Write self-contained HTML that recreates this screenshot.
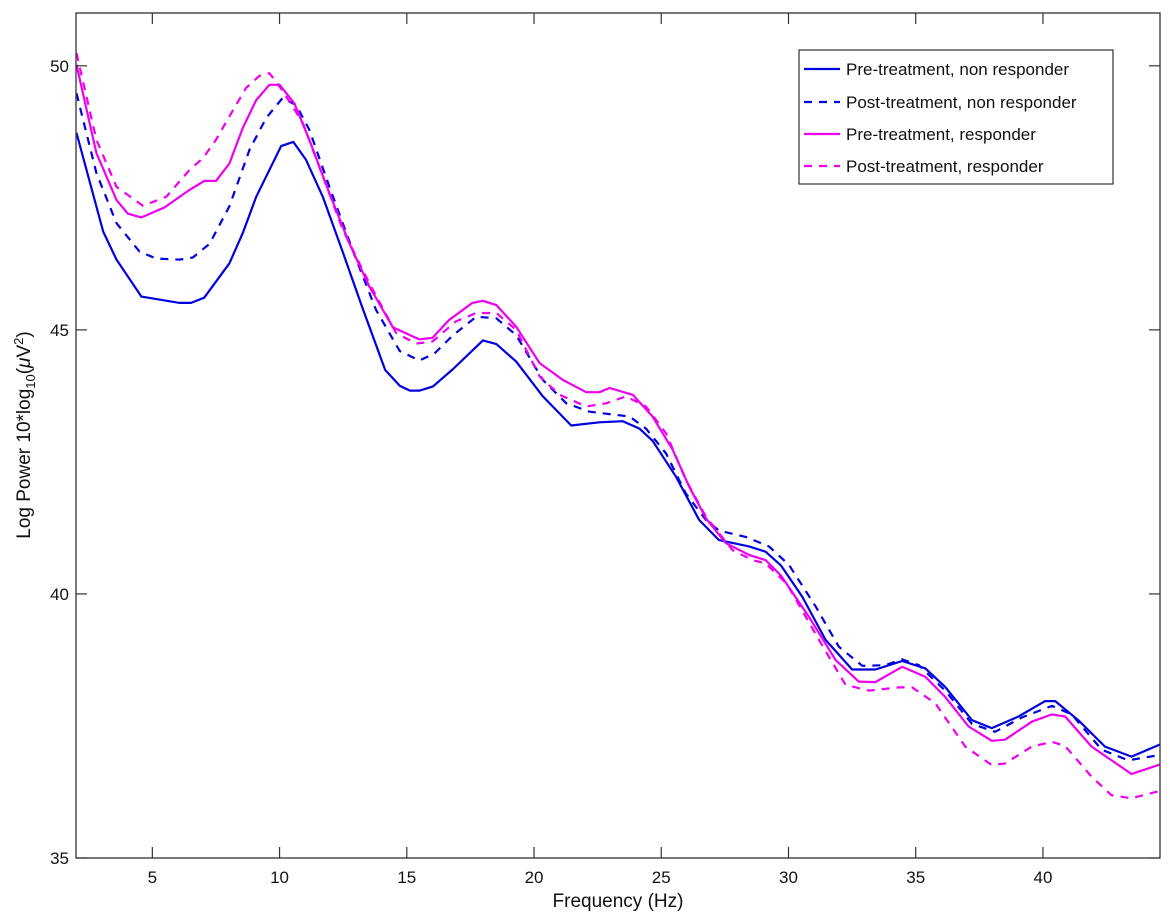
<!DOCTYPE html>
<html><head><meta charset="utf-8"><style>
html,body{margin:0;padding:0;background:#fff;}
svg{display:block;font-family:"Liberation Sans",Arial,sans-serif;}
</style></head><body>
<svg id="chart" width="1170" height="917" viewBox="0 0 1170 917">
<rect x="0" y="0" width="1170" height="917" fill="#fff"/>
<g id="series"></g>
<rect x="76" y="13" width="1084" height="845" fill="none" stroke="#333" stroke-width="1.3"/>
<g id="axes"></g>
<text x="618" y="907" font-size="19" text-anchor="middle" fill="#111">Frequency (Hz)</text>
<text transform="translate(30,435) rotate(-90)" font-size="19" text-anchor="middle" fill="#111">Log Power 10*log<tspan font-size="13" dy="5">10</tspan><tspan dy="-5">(</tspan><tspan font-style="italic">μ</tspan>V<tspan font-size="13" dy="-7">2</tspan><tspan dy="7">)</tspan></text>
<g>
<rect x="799" y="50" width="314" height="134" fill="#fff" stroke="#333" stroke-width="1.2"/>
<g><line x1="804" y1="69" x2="840" y2="69" stroke="#0000e0" stroke-width="2.2"/><text x="846" y="75" font-size="17" fill="#111">Pre-treatment, non responder</text></g>
<g><line x1="804" y1="102" x2="840" y2="102" stroke="#0000e0" stroke-width="2.2" stroke-dasharray="8,7"/><text x="846" y="108" font-size="17" fill="#111">Post-treatment, non responder</text></g>
<g><line x1="804" y1="134" x2="840" y2="134" stroke="#ee00ee" stroke-width="2.2"/><text x="846" y="140" font-size="17" fill="#111">Pre-treatment, responder</text></g>
<g><line x1="804" y1="166" x2="840" y2="166" stroke="#ee00ee" stroke-width="2.2" stroke-dasharray="8,7"/><text x="846" y="172" font-size="17" fill="#111">Post-treatment, responder</text></g>
</g>
</svg>
<script>
const xTicks=[5,10,15,20,25,30,35,40];
const yTicks=[35,40,45,50];
const preNRFreq=[2.02,3.07,3.59,4.57,6.07,6.52,7.04,8.03,8.55,9.08,10.06,10.54,11.04,11.7,12.5,13.24,14.15,14.73,15.12,15.51,16.03,16.82,17.99,18.52,19.3,20.35,21.46,22.57,23.49,24.14,24.66,25.58,26.49,27.27,28.45,29.1,29.7,30.54,31.46,32.5,33.42,34.47,35.38,36.16,37.21,37.99,39.04,40.09,40.48,41.39,42.44,43.48,44.6];
const preNRVal=[48.73,46.86,46.33,45.63,45.51,45.51,45.61,46.26,46.83,47.52,48.48,48.56,48.22,47.52,46.45,45.44,44.24,43.94,43.85,43.85,43.93,44.26,44.8,44.73,44.4,43.74,43.19,43.25,43.27,43.13,42.9,42.22,41.4,41.02,40.9,40.8,40.54,39.95,39.13,38.57,38.57,38.73,38.59,38.24,37.61,37.46,37.68,37.97,37.97,37.61,37.11,36.92,37.15];
const postNRFreq=[2.02,2.8,3.59,4.5,5.16,6.07,6.59,7.25,8.03,8.82,9.47,10.12,10.65,11.17,11.96,12.87,13.79,14.72,15.5,16.08,16.82,17.73,18.52,19.3,20.35,21.27,22.18,23.22,23.75,24.4,25.19,25.97,26.76,27.27,28.32,29.23,30.02,31.07,31.98,32.9,33.81,34.47,35.12,36.16,37.21,38.12,39.17,40.35,41.13,42.31,43.35,44.6];
const postNRVal=[49.48,47.97,47.02,46.48,46.35,46.33,46.37,46.63,47.34,48.41,49.01,49.39,49.26,48.79,47.71,46.51,45.38,44.6,44.42,44.55,44.9,45.25,45.22,44.9,44.05,43.61,43.45,43.39,43.36,43.13,42.66,41.9,41.4,41.2,41.08,40.9,40.55,39.76,39.0,38.64,38.65,38.76,38.65,38.17,37.54,37.39,37.66,37.88,37.72,37.05,36.85,36.95];
const preRFreq=[2.02,2.8,3.59,4.04,4.57,5.48,6.46,7.04,7.5,8.03,8.55,9.08,9.6,10.0,10.58,11.17,11.96,12.74,13.53,14.45,15.49,16.01,16.67,17.58,17.99,18.52,19.3,20.22,21.14,22.05,22.57,22.97,23.88,24.66,25.45,26.1,26.76,27.54,28.45,29.1,29.7,30.8,31.85,32.76,33.42,34.47,35.38,36.16,37.08,37.99,38.51,39.56,40.35,40.87,41.91,43.48,44.6];
const preRVal=[50.02,48.35,47.46,47.2,47.13,47.32,47.65,47.82,47.82,48.15,48.82,49.35,49.64,49.64,49.29,48.6,47.59,46.64,45.82,45.05,44.82,44.85,45.19,45.51,45.55,45.47,45.06,44.37,44.05,43.82,43.82,43.9,43.77,43.36,42.73,42.03,41.43,40.96,40.74,40.64,40.35,39.57,38.75,38.34,38.33,38.62,38.43,38.05,37.49,37.22,37.24,37.58,37.72,37.68,37.11,36.59,36.77];
const postRFreq=[2.02,2.8,3.59,4.63,5.55,6.46,6.99,7.5,8.03,8.68,9.21,9.6,10.0,10.38,10.91,11.7,12.48,13.53,14.58,15.36,16.01,16.93,17.73,18.52,19.3,20.22,21.01,22.05,22.83,23.62,24.4,25.19,25.97,26.76,27.8,28.58,29.1,29.95,31.2,32.24,33.16,34.34,34.86,35.77,36.95,37.99,38.51,39.56,40.35,40.87,41.91,42.69,43.48,44.6];
const postRVal=[50.24,48.6,47.71,47.35,47.52,48.03,48.25,48.6,49.04,49.58,49.81,49.86,49.61,49.33,48.92,47.91,46.9,45.88,44.94,44.74,44.78,45.16,45.32,45.32,45.0,44.12,43.77,43.55,43.61,43.74,43.55,43.04,42.16,41.46,40.83,40.64,40.58,40.18,39.13,38.28,38.17,38.23,38.23,37.93,37.11,36.76,36.79,37.11,37.2,37.12,36.54,36.19,36.13,36.27];

const X0=76,X1=1160,Y0=13,Y1=858,FMIN=2,FMAX=44.6,VMIN=35,VMAX=51;
function xs(f){return X0+(f-FMIN)/(FMAX-FMIN)*(X1-X0);}
function ys(v){return Y1-(v-VMIN)/(VMAX-VMIN)*(Y1-Y0);}
const NS='http://www.w3.org/2000/svg';
const axes=document.getElementById('axes');
const seriesG=document.getElementById('series');
xTicks.forEach(t=>{
  const x=xs(t);
  const l1=document.createElementNS(NS,'line');
  l1.setAttribute('x1',x);l1.setAttribute('x2',x);l1.setAttribute('y1',Y1);l1.setAttribute('y2',Y1-11);
  l1.setAttribute('stroke','#333');l1.setAttribute('stroke-width','1.2');
  
  
  axes.appendChild(l1);
  const l2=document.createElementNS(NS,'line');
  l2.setAttribute('x1',x);l2.setAttribute('x2',x);l2.setAttribute('y1',Y0);l2.setAttribute('y2',Y0+11);
  l2.setAttribute('stroke','#333');l2.setAttribute('stroke-width','1.2');
  
  
  axes.appendChild(l2);
  const tx=document.createElementNS(NS,'text');
  tx.setAttribute('x',x);tx.setAttribute('y',883);tx.setAttribute('font-size','17');tx.setAttribute('text-anchor','middle');tx.setAttribute('fill','#111');
  tx.textContent=t;
  
  
  axes.appendChild(tx);
});
yTicks.forEach(t=>{
  const y=ys(t);
  const l1=document.createElementNS(NS,'line');
  l1.setAttribute('x1',X0);l1.setAttribute('x2',X0+11);l1.setAttribute('y1',y);l1.setAttribute('y2',y);
  l1.setAttribute('stroke','#333');l1.setAttribute('stroke-width','1.2');
  
  
  axes.appendChild(l1);
  const l2=document.createElementNS(NS,'line');
  l2.setAttribute('x1',X1);l2.setAttribute('x2',X1-11);l2.setAttribute('y1',y);l2.setAttribute('y2',y);
  l2.setAttribute('stroke','#333');l2.setAttribute('stroke-width','1.2');
  
  
  axes.appendChild(l2);
  const tx=document.createElementNS(NS,'text');
  tx.setAttribute('x',69);tx.setAttribute('y',y+6);tx.setAttribute('font-size','17');tx.setAttribute('text-anchor','end');tx.setAttribute('fill','#111');
  tx.textContent=t;
  
  
  axes.appendChild(tx);
});
function drawLine(fr,vals,color,dash,name){
  const p=document.createElementNS(NS,'polyline');
  p.setAttribute('points',fr.map((f,i)=>xs(f).toFixed(1)+','+ys(vals[i]).toFixed(1)).join(' '));
  p.setAttribute('fill','none');p.setAttribute('stroke',color);p.setAttribute('stroke-width','2.2');
  p.setAttribute('stroke-linejoin','round');
  if(dash)p.setAttribute('stroke-dasharray','8,7');
  
  
  seriesG.appendChild(p);
}
drawLine(preNRFreq,preNRVal,'#0000e0',false,'line-pre-nonresponder');
drawLine(postNRFreq,postNRVal,'#0000e0',true,'line-post-nonresponder');
drawLine(preRFreq,preRVal,'#ee00ee',false,'line-pre-responder');
drawLine(postRFreq,postRVal,'#ee00ee',true,'line-post-responder');
</script>
</body></html>
